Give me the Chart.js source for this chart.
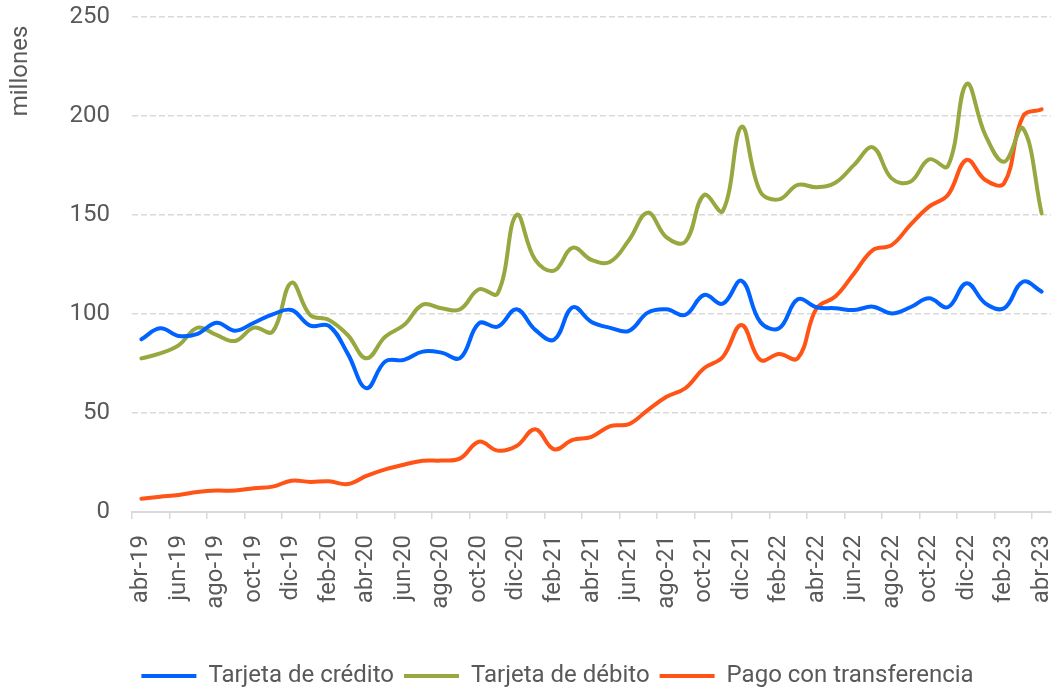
<!DOCTYPE html>
<html>
<head>
<meta charset="utf-8">
<script src="https://cdn.jsdelivr.net/npm/chart.js@4"></script>
<style>
  html, body { margin: 0; padding: 0; background: #ffffff; }
  #wrap { width: 1053px; height: 688px; position: relative; }
</style>
</head>
<body>
<div id="wrap"><canvas id="c"></canvas></div>
<script>
const months = [
  'abr-19','may-19','jun-19','jul-19','ago-19','sep-19','oct-19','nov-19','dic-19',
  'ene-20','feb-20','mar-20','abr-20','may-20','jun-20','jul-20','ago-20','sep-20','oct-20','nov-20','dic-20',
  'ene-21','feb-21','mar-21','abr-21','may-21','jun-21','jul-21','ago-21','sep-21','oct-21','nov-21','dic-21',
  'ene-22','feb-22','mar-22','abr-22','may-22','jun-22','jul-22','ago-22','sep-22','oct-22','nov-22','dic-22',
  'ene-23','feb-23','mar-23','abr-23'
];

const credito = [
  87.2, 92.8, 88.9, 90.0, 95.6, 91.6, 95.6, 99.8, 102.0,
  94.1, 94.0, 80.0, 62.5, 76.0, 76.8, 81.0, 80.5, 77.8, 95.3, 93.6, 102.4,
  92.0, 87.0, 103.4, 96.0, 93.0, 91.5, 100.7, 102.4, 99.5, 109.6, 105.2, 116.8,
  96.0, 92.8, 107.4, 103.4, 102.9, 102.0, 103.7, 100.3, 103.4, 107.9, 103.4, 115.5,
  105.4, 102.9, 116.3, 111.3
];

const debito = [
  77.6, 80.1, 84.3, 93.1, 89.4, 86.4, 93.1, 91.1, 115.8,
  99.5, 97.0, 89.4, 77.6, 88.5, 94.4, 104.7, 102.9, 102.4, 112.5, 110.4, 150.0,
  127.3, 121.9, 133.5, 127.3, 126.4, 137.4, 151.2, 138.7, 136.5, 160.1, 152.0, 194.6,
  161.8, 157.9, 165.2, 164.0, 166.3, 175.3, 184.2, 168.5, 166.8, 178.1, 174.7, 216.2,
  190.4, 176.9, 193.8, 150.8
];

const transferencia = [
  6.7, 7.7, 8.6, 10.1, 10.8, 10.8, 12.0, 12.8, 15.8,
  15.2, 15.5, 14.1, 18.2, 21.5, 23.9, 25.9, 26.0, 27.1, 35.5, 31.0, 33.3,
  41.8, 31.7, 36.4, 38.0, 43.4, 44.4, 51.5, 58.2, 62.5, 72.6, 78.3, 94.4,
  76.8, 79.8, 77.6, 102.9, 108.8, 120.5, 132.3, 134.8, 145.0, 154.2, 160.1, 177.8,
  167.7, 166.0, 199.7, 203.4
];

const seriesNames = ['Tarjeta de crédito', 'Tarjeta de débito', 'Pago con transferencia'];
const yTicks = [0, 50, 100, 150, 200, 250];
const yTitle = 'millones';

const TEXT = '#595959';
const GRID = '#d9d9d9';
const FS = 24;
const LEG_DX = 32;
const LEG_DY = 10;

Chart.defaults.font.family = 'Roboto';
Chart.defaults.font.size = FS;
Chart.defaults.color = TEXT;

const legendShift = {
  id: 'legendShift',
  afterLayout(chart) {
    const lg = chart.legend;
    if (!lg) return;
    lg.left += LEG_DX; lg.right += LEG_DX;
    lg.top += LEG_DY; lg.bottom += LEG_DY;
  }
};

const yTitlePlugin = {
  id: 'yTitlePlugin',
  afterDraw(chart) {
    const ctx = chart.ctx;
    ctx.save();
    ctx.translate(20.5, 71);
    ctx.rotate(-Math.PI / 2);
    ctx.font = FS + 'px Roboto';
    ctx.fillStyle = TEXT;
    ctx.textAlign = 'center';
    ctx.textBaseline = 'middle';
    ctx.fillText(yTitle, 0, 0);
    ctx.restore();
  }
};

function ds(label, data, color) {
  return {
    label, data,
    borderColor: color,
    backgroundColor: color,
    borderWidth: 4,
    borderCapStyle: 'round',
    borderJoinStyle: 'round',
    pointRadius: 0,
    pointHoverRadius: 0,
    tension: 0.4,
    fill: false
  };
}

new Chart(document.getElementById('c'), {
  type: 'line',
  data: {
    labels: months,
    datasets: [
      ds(seriesNames[0], credito, '#0062FF'),
      ds(seriesNames[1], debito, '#97A840'),
      ds(seriesNames[2], transferencia, '#FF5416')
    ]
  },
  options: {
    responsive: true,
    maintainAspectRatio: false,
    animation: false,
    layout: { padding: { top: 17, right: 2, bottom: 0, left: 0 } },
    plugins: {
      legend: {
        position: 'bottom',
        labels: {
          usePointStyle: true,
          pointStyle: 'line',
          pointStyleWidth: 55,
          padding: 10,
          color: TEXT,
          font: { size: FS }
        }
      },
      tooltip: { enabled: false }
    },
    scales: {
      x: {
        type: 'category',
        offset: true,
        afterFit(scale) {
          scale.height = 132;
          scale.paddingLeft = 0;
          scale.paddingRight = 0;
        },
        grid: {
          offset: true,
          drawOnChartArea: false,
          drawTicks: true,
          tickLength: 7,
          lineWidth: 1.5,
          color: (ctx) => (ctx.index % 2 === 0 ? GRID : 'rgba(0,0,0,0)')
        },
        border: { display: true, color: GRID, width: 2 },
        ticks: {
          autoSkip: false,
          maxRotation: 90,
          minRotation: 90,
          padding: 16,
          color: TEXT,
          font: { size: FS },
          callback: function (value, index) {
            return index % 2 === 0 ? this.getLabelForValue(value) : '';
          }
        }
      },
      y: {
        min: yTicks[0],
        max: yTicks[yTicks.length - 1],
        afterFit(scale) {
          scale.width = 132;
          scale.paddingTop = 0;
          scale.paddingBottom = 0;
        },
        afterBuildTicks(scale) { scale.ticks = yTicks.map(v => ({ value: v })); },
        grid: {
          drawTicks: false,
          color: GRID,
          lineWidth: 1.5
        },
        border: { display: false, dash: [6, 3] },
        ticks: {
          padding: 22,
          color: TEXT,
          font: { size: FS }
        },
        title: { display: false }
      }
    }
  },
  plugins: [legendShift, yTitlePlugin]
});
</script>
</body>
</html>
